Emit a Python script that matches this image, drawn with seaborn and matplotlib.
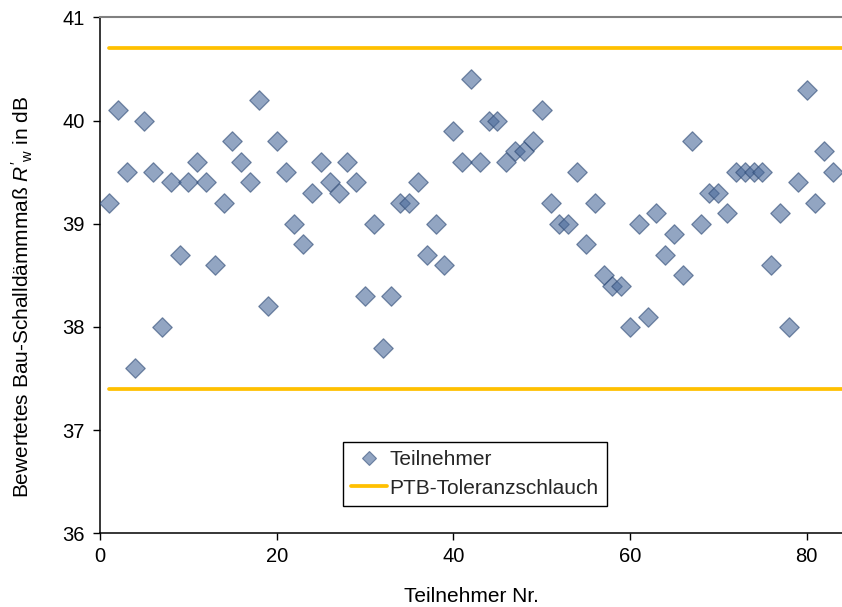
import numpy as np
import pandas as pd
import matplotlib
matplotlib.use("Agg")
import matplotlib.pyplot as plt
from matplotlib.lines import Line2D
import seaborn as sns

# Participant numbers and their weighted apparent sound reduction index R'w (dB)
participant = list(range(1, 84))
rw_values = [
    39.2, 40.1, 39.5, 37.6, 40.0, 39.5, 38.0, 39.4, 38.7, 39.4,
    39.6, 39.4, 38.6, 39.2, 39.8, 39.6, 39.4, 40.2, 38.2, 39.8,
    39.5, 39.0, 38.8, 39.3, 39.6, 39.4, 39.3, 39.6, 39.4, 38.3,
    39.0, 37.8, 38.3, 39.2, 39.2, 39.4, 38.7, 39.0, 38.6, 39.9,
    39.6, 40.4, 39.6, 40.0, 40.0, 39.6, 39.7, 39.7, 39.8, 40.1,
    39.2, 39.0, 39.0, 39.5, 38.8, 39.2, 38.5, 38.4, 38.4, 38.0,
    39.0, 38.1, 39.1, 38.7, 38.9, 38.5, 39.8, 39.0, 39.3, 39.3,
    39.1, 39.5, 39.5, 39.5, 39.5, 38.6, 39.1, 38.0, 39.4, 40.3,
    39.2, 39.7, 39.5,
]

# PTB tolerance band
tol_upper = 40.7
tol_lower = 37.4
tol_x = [1, 84]

y_ticks = [36, 37, 38, 39, 40, 41]
x_ticks = [0, 20, 40, 60, 80]

points = pd.DataFrame({"nr": participant, "rw": rw_values})
band = pd.DataFrame({
    "nr": tol_x * 2,
    "rw": [tol_upper, tol_upper, tol_lower, tol_lower],
    "edge": ["upper", "upper", "lower", "lower"],
})

sns.set_theme(style="white")
plt.rcParams["font.family"] = ["Liberation Sans", "DejaVu Sans"]
plt.rcParams["mathtext.fontset"] = "custom"
plt.rcParams["mathtext.rm"] = "Liberation Sans"
plt.rcParams["mathtext.it"] = "Liberation Sans:italic"

W, H = 842, 607
fig = plt.figure(figsize=(W / 100, H / 100), dpi=100)
ax = fig.add_axes([100 / W, 1 - 533.3 / H, 1 - 100 / W, (533.3 - 17.3) / H])

band_color = "#FFC000"
point_face = "#4A6A9A"
point_edge = "#2E4A75"

sns.lineplot(data=band, x="nr", y="rw", units="edge", estimator=None,
             color=band_color, linewidth=2.7, legend=False, ax=ax)
sns.scatterplot(data=points, x="nr", y="rw", marker="D", s=98,
                color=point_face, edgecolor=point_edge, linewidth=0.9,
                alpha=0.6, legend=False, ax=ax, zorder=3)

ax.set_xlim(0, 84)
ax.set_ylim(36, 41)
ax.set_xticks(x_ticks)
ax.set_yticks(y_ticks)

for side in ["left", "bottom"]:
    ax.spines[side].set_color("black")
    ax.spines[side].set_linewidth(1.1)
ax.spines["top"].set_color("#808080")
ax.spines["top"].set_linewidth(1.5)
ax.spines["right"].set_visible(False)

ax.tick_params(axis="both", which="major", direction="out", length=5,
               width=1, color="black", labelsize=14.5, labelcolor="black",
               left=True, bottom=True)
ax.tick_params(axis="x", pad=5)
ax.tick_params(axis="y", pad=6)

ax.set_xlabel("Teilnehmer Nr.", fontsize=15, color="black")
ax.set_ylabel("Bewertetes Bau-Schalldämmmaß $R'_{\\mathrm{w}}$ in dB",
              fontsize=15, color="black")
ax.xaxis.set_label_coords(0.5, -0.123)
ax.xaxis.label.set_va("center")
ax.yaxis.set_label_coords(-0.105, 0.458)
ax.yaxis.label.set_va("center")

handles = [
    Line2D([], [], linestyle="none", marker="D", markersize=7,
           markerfacecolor=point_face, markeredgecolor=point_edge,
           markeredgewidth=0.8, alpha=0.6, label="Teilnehmer"),
    Line2D([], [], color=band_color, linewidth=2.7, label="PTB-Toleranzschlauch"),
]
leg = ax.legend(handles=handles, loc="center",
                bbox_to_anchor=(475 / W, 1 - 474 / H),
                bbox_transform=fig.transFigure, fontsize=15,
                frameon=True, fancybox=False, framealpha=1,
                edgecolor="black", handlelength=1.7, handletextpad=0.15,
                borderpad=0.4, labelspacing=0.45, borderaxespad=0)
leg.get_frame().set_linewidth(1.0)

fig.savefig("out.png", dpi=100, facecolor="white")
